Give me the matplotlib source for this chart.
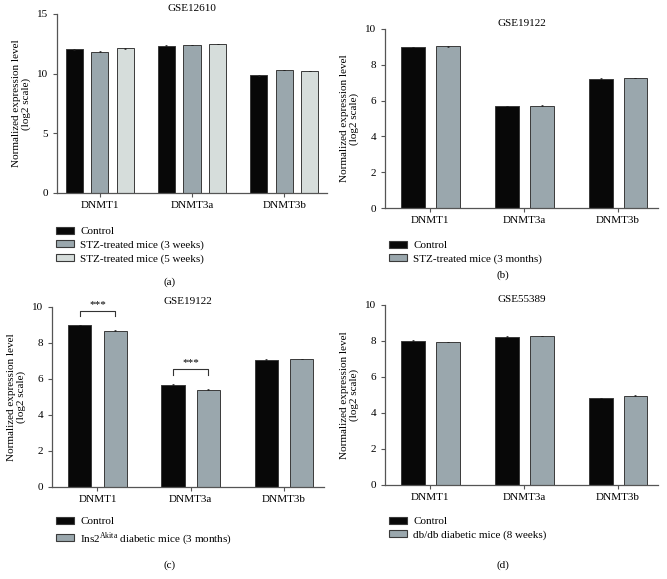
import matplotlib
matplotlib.use("Agg")
import matplotlib.pyplot as plt
from matplotlib.patches import Patch
import numpy as np

plt.rcParams['font.family'] = ['Liberation Serif', 'DejaVu Serif']
plt.rcParams['mathtext.fontset'] = 'custom'
plt.rcParams['mathtext.rm'] = 'Liberation Serif'
plt.rcParams['font.size'] = 8

genes = ['DNMT1', 'DNMT3a', 'DNMT3b']

# (a) GSE12610
a_control = [12.03, 12.34, 9.86]
a_stz3w = [11.84, 12.40, 10.31]
a_stz5w = [12.12, 12.48, 10.22]
a_err = [0.03, 0.03, 0.03]

# (b) GSE19122
b_control = [9.00, 5.70, 7.22]
b_stz3m = [9.03, 5.71, 7.27]

# (c) GSE19122
c_control = [9.00, 5.69, 7.07]
c_akita = [8.69, 5.41, 7.11]

# (d) GSE55389
d_control = [8.02, 8.24, 4.83]
d_dbdb = [7.94, 8.28, 4.96]

small_err = [0.02, 0.02, 0.02]

BLACK = '#080808'
GRAY = '#9aa7ad'
LIGHT = '#d6dddb'
EDGE = '#3a3a3a'

W, H = 667, 579
fig = plt.figure(figsize=(W / 100, H / 100), dpi=100)


def px_axes(left, top, right, bottom):
    return fig.add_axes([left / W, 1 - bottom / H, (right - left) / W, (bottom - top) / H])


def style(ax, title, ymax, ystep, xlim):
    ax.set_ylim(0, ymax)
    ax.set_yticks(np.arange(0, ymax + 0.01, ystep))
    ax.set_xlim(*xlim)
    ax.set_xticks(range(len(genes)))
    ax.set_xticklabels(genes)
    for s in ['top', 'right']:
        ax.spines[s].set_visible(False)
    for s in ['left', 'bottom']:
        ax.spines[s].set_color('#555555')
        ax.spines[s].set_linewidth(0.9)
    ax.tick_params(axis='both', colors='#555555', labelcolor='black', length=3, width=0.8, labelsize=8)
    ax.tick_params(axis='x', pad=3)
    ax.set_ylabel('Normalized expression level\n(log2 scale)', fontsize=8, linespacing=1.05, labelpad=4)
    ax.set_title(title, fontsize=8, pad=2)


def bars(ax, series, colors, width, offsets, errs):
    x = np.arange(len(genes))
    for vals, col, off in zip(series, colors, offsets):
        ax.bar(x + off, vals, width, color=col, edgecolor=EDGE, linewidth=0.7,
               yerr=errs, capsize=1, error_kw=dict(elinewidth=0.5, capthick=0.5, ecolor='#222222'))


def legend(ax, labels, colors, x, y):
    handles = [Patch(facecolor=c, edgecolor=EDGE, linewidth=0.8) for c in colors]
    ax.legend(handles, labels, loc='upper left', bbox_to_anchor=(x / W, 1 - y / H),
              bbox_transform=fig.transFigure, frameon=False, fontsize=8,
              handlelength=1.6, handleheight=0.6, handletextpad=0.6,
              labelspacing=0.35, borderpad=0, borderaxespad=0)


# (a)
ax = px_axes(57, 14, 327, 193)
bars(ax, [a_control, a_stz3w, a_stz5w], [BLACK, GRAY, LIGHT], 0.184, [-0.276, 0, 0.276], a_err)
style(ax, 'GSE12610', 15, 5, (-0.46, 2.46))
legend(ax, ['Control', 'STZ-treated mice (3 weeks)', 'STZ-treated mice (5 weeks)'],
       [BLACK, GRAY, LIGHT], 56, 227)
fig.text(170 / W, 1 - 282 / H, '(a)', ha='center', va='center', fontsize=8)

# (b)
ax = px_axes(385, 29, 658, 208)
bars(ax, [b_control, b_stz3m], [BLACK, GRAY], 0.255, [-0.186, 0.186], small_err)
style(ax, 'GSE19122', 10, 2, (-0.484, 2.426))
legend(ax, ['Control', 'STZ-treated mice (3 months)'], [BLACK, GRAY], 389, 241)
fig.text(503 / W, 1 - 275 / H, '(b)', ha='center', va='center', fontsize=8)

# (c)
ax = px_axes(52, 307, 324, 487)
bars(ax, [c_control, c_akita], [BLACK, GRAY], 0.247, [-0.19, 0.19], small_err)
style(ax, 'GSE19122', 10, 2, (-0.488, 2.43))
legend(ax, ['Control', 'Ins2$^{\\mathrm{Akita}}$ diabetic mice (3 months)'], [BLACK, GRAY], 56, 517)
fig.text(170 / W, 1 - 565 / H, '(c)', ha='center', va='center', fontsize=8)

# significance brackets
sig_genes = [0, 1]
sig_top = [9.78, 6.56]
sig_drop = [0.28, 0.32]
for g, top, drop in zip(sig_genes, sig_top, sig_drop):
    x0, x1 = g - 0.19, g + 0.19
    ax.plot([x0, x0, x1, x1], [top - drop, top, top, top - drop], color='#333333', lw=0.8, clip_on=False)
    ax.text(g, top + 0.12, '***', ha='center', va='bottom', fontsize=8, clip_on=False)

# (d)
ax = px_axes(385, 305, 658, 485)
bars(ax, [d_control, d_dbdb], [BLACK, GRAY], 0.255, [-0.186, 0.186], small_err)
style(ax, 'GSE55389', 10, 2, (-0.484, 2.426))
legend(ax, ['Control', 'db/db diabetic mice (8 weeks)'], [BLACK, GRAY], 389, 517)
fig.text(503 / W, 1 - 565 / H, '(d)', ha='center', va='center', fontsize=8)

fig.savefig('out.png', dpi=100)
